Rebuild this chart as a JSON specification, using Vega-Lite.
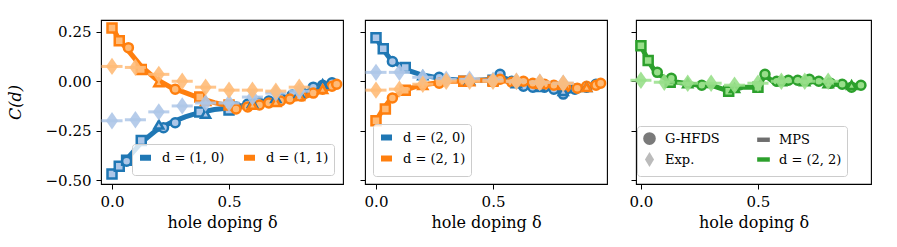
{
"$schema": "https://vega.github.io/schema/vega-lite/v6.json",
"autosize": {"type": "pad"},
"padding": {"left": 6, "top": 16, "right": 5, "bottom": 5},
"background": "white",
"datasets": {
"p1": [
{"d":"d = (1, 0)","k":"m","x":0,"y":-0.47},{"d":"d = (1, 0)","k":"m","x":0.031,"y":-0.43},{"d":"d = (1, 0)","k":"m","x":0.0625,"y":-0.395},{"d":"d = (1, 0)","k":"m","x":0.125,"y":-0.31},{"d":"d = (1, 0)","k":"m","x":0.1875,"y":-0.25},{"d":"d = (1, 0)","k":"m","x":0.25,"y":-0.21},{"d":"d = (1, 0)","k":"m","x":0.3125,"y":-0.18},{"d":"d = (1, 0)","k":"m","x":0.375,"y":-0.158},{"d":"d = (1, 0)","k":"m","x":0.4375,"y":-0.143},{"d":"d = (1, 0)","k":"m","x":0.5,"y":-0.135},{"d":"d = (1, 0)","k":"m","x":0.5625,"y":-0.122},{"d":"d = (1, 0)","k":"m","x":0.625,"y":-0.108},{"d":"d = (1, 0)","k":"m","x":0.6875,"y":-0.093},{"d":"d = (1, 0)","k":"m","x":0.75,"y":-0.078},{"d":"d = (1, 0)","k":"m","x":0.8125,"y":-0.06},{"d":"d = (1, 0)","k":"m","x":0.875,"y":-0.035},{"d":"d = (1, 0)","k":"m","x":0.9375,"y":-0.012},{"d":"d = (1, 0)","k":"m","x":0.96,"y":-0.002},
{"d":"d = (1, 1)","k":"m","x":0,"y":0.275},{"d":"d = (1, 1)","k":"m","x":0.031,"y":0.21},{"d":"d = (1, 1)","k":"m","x":0.0625,"y":0.165},{"d":"d = (1, 1)","k":"m","x":0.125,"y":0.075},{"d":"d = (1, 1)","k":"m","x":0.1875,"y":0.012},{"d":"d = (1, 1)","k":"m","x":0.25,"y":-0.03},{"d":"d = (1, 1)","k":"m","x":0.3125,"y":-0.058},{"d":"d = (1, 1)","k":"m","x":0.375,"y":-0.085},{"d":"d = (1, 1)","k":"m","x":0.4375,"y":-0.108},{"d":"d = (1, 1)","k":"m","x":0.5,"y":-0.125},{"d":"d = (1, 1)","k":"m","x":0.5625,"y":-0.13},{"d":"d = (1, 1)","k":"m","x":0.625,"y":-0.118},{"d":"d = (1, 1)","k":"m","x":0.6875,"y":-0.107},{"d":"d = (1, 1)","k":"m","x":0.75,"y":-0.097},{"d":"d = (1, 1)","k":"m","x":0.8125,"y":-0.082},{"d":"d = (1, 1)","k":"m","x":0.875,"y":-0.058},{"d":"d = (1, 1)","k":"m","x":0.9375,"y":-0.032},{"d":"d = (1, 1)","k":"m","x":0.96,"y":-0.018},
{"d":"d = (1, 0)","k":"s","x":0,"y":-0.47},{"d":"d = (1, 0)","k":"s","x":0.031,"y":-0.43},{"d":"d = (1, 0)","k":"s","x":0.0625,"y":-0.4},{"d":"d = (1, 0)","k":"s","x":0.125,"y":-0.3},{"d":"d = (1, 0)","k":"s","x":0.375,"y":-0.155},{"d":"d = (1, 0)","k":"s","x":0.5,"y":-0.145},
{"d":"d = (1, 1)","k":"s","x":0,"y":0.27},{"d":"d = (1, 1)","k":"s","x":0.031,"y":0.205},{"d":"d = (1, 1)","k":"s","x":0.125,"y":0.06},{"d":"d = (1, 1)","k":"s","x":0.375,"y":-0.08},{"d":"d = (1, 1)","k":"s","x":0.5,"y":-0.12},
{"d":"d = (1, 0)","k":"c","x":0.0625,"y":-0.405},{"d":"d = (1, 0)","k":"c","x":0.22,"y":-0.235},{"d":"d = (1, 0)","k":"c","x":0.27,"y":-0.21},{"d":"d = (1, 0)","k":"c","x":0.53,"y":-0.13},{"d":"d = (1, 0)","k":"c","x":0.58,"y":-0.115},{"d":"d = (1, 0)","k":"c","x":0.625,"y":-0.105},{"d":"d = (1, 0)","k":"c","x":0.67,"y":-0.1},{"d":"d = (1, 0)","k":"c","x":0.72,"y":-0.085},{"d":"d = (1, 0)","k":"c","x":0.77,"y":-0.07},{"d":"d = (1, 0)","k":"c","x":0.81,"y":-0.055},{"d":"d = (1, 0)","k":"c","x":0.86,"y":-0.03},{"d":"d = (1, 0)","k":"c","x":0.9,"y":-0.02},{"d":"d = (1, 0)","k":"c","x":0.94,"y":-0.008},
{"d":"d = (1, 1)","k":"c","x":0.07,"y":0.17},{"d":"d = (1, 1)","k":"c","x":0.27,"y":-0.04},{"d":"d = (1, 1)","k":"c","x":0.53,"y":-0.14},{"d":"d = (1, 1)","k":"c","x":0.58,"y":-0.13},{"d":"d = (1, 1)","k":"c","x":0.63,"y":-0.12},{"d":"d = (1, 1)","k":"c","x":0.67,"y":-0.11},{"d":"d = (1, 1)","k":"c","x":0.72,"y":-0.1},{"d":"d = (1, 1)","k":"c","x":0.76,"y":-0.09},{"d":"d = (1, 1)","k":"c","x":0.81,"y":-0.075},{"d":"d = (1, 1)","k":"c","x":0.86,"y":-0.06},{"d":"d = (1, 1)","k":"c","x":0.9,"y":-0.04},{"d":"d = (1, 1)","k":"c","x":0.94,"y":-0.025},{"d":"d = (1, 1)","k":"c","x":0.96,"y":-0.015},
{"d":"d = (1, 0)","k":"t","x":0.2,"y":-0.22},{"d":"d = (1, 0)","k":"t","x":0.4,"y":-0.165},{"d":"d = (1, 0)","k":"t","x":0.6,"y":-0.11},{"d":"d = (1, 0)","k":"t","x":0.7,"y":-0.085},{"d":"d = (1, 0)","k":"t","x":0.8,"y":-0.06},{"d":"d = (1, 0)","k":"t","x":0.9,"y":-0.015},
{"d":"d = (1, 1)","k":"t","x":0.2,"y":-0.005},{"d":"d = (1, 1)","k":"t","x":0.4,"y":-0.1},{"d":"d = (1, 1)","k":"t","x":0.6,"y":-0.12},{"d":"d = (1, 1)","k":"t","x":0.7,"y":-0.105},{"d":"d = (1, 1)","k":"t","x":0.8,"y":-0.075},{"d":"d = (1, 1)","k":"t","x":0.9,"y":-0.04},
{"d":"d = (1, 0)","k":"e","x":0,"y":-0.2,"lo":-0.045,"hi":0.045},{"d":"d = (1, 0)","k":"e","x":0.1,"y":-0.195,"lo":0.055,"hi":0.145},{"d":"d = (1, 0)","k":"e","x":0.2,"y":-0.155,"lo":0.155,"hi":0.245},{"d":"d = (1, 0)","k":"e","x":0.3,"y":-0.125,"lo":0.255,"hi":0.345},{"d":"d = (1, 0)","k":"e","x":0.4,"y":-0.11,"lo":0.355,"hi":0.445},{"d":"d = (1, 0)","k":"e","x":0.5,"y":-0.11,"lo":0.455,"hi":0.545},{"d":"d = (1, 0)","k":"e","x":0.6,"y":-0.08,"lo":0.555,"hi":0.645},{"d":"d = (1, 0)","k":"e","x":0.7,"y":-0.06,"lo":0.655,"hi":0.745},{"d":"d = (1, 0)","k":"e","x":0.8,"y":-0.05,"lo":0.755,"hi":0.845},
{"d":"d = (1, 1)","k":"e","x":0,"y":0.075,"lo":-0.045,"hi":0.045},{"d":"d = (1, 1)","k":"e","x":0.1,"y":0.07,"lo":0.055,"hi":0.145},{"d":"d = (1, 1)","k":"e","x":0.2,"y":0.035,"lo":0.155,"hi":0.245},{"d":"d = (1, 1)","k":"e","x":0.3,"y":0.0,"lo":0.255,"hi":0.345},{"d":"d = (1, 1)","k":"e","x":0.4,"y":-0.03,"lo":0.355,"hi":0.445},{"d":"d = (1, 1)","k":"e","x":0.5,"y":-0.045,"lo":0.455,"hi":0.545},{"d":"d = (1, 1)","k":"e","x":0.6,"y":-0.045,"lo":0.555,"hi":0.645},{"d":"d = (1, 1)","k":"e","x":0.7,"y":-0.05,"lo":0.655,"hi":0.745},{"d":"d = (1, 1)","k":"e","x":0.8,"y":-0.03,"lo":0.755,"hi":0.845}
],
"p2": [
{"d":"d = (2, 0)","k":"m","x":0,"y":0.22},{"d":"d = (2, 0)","k":"m","x":0.031,"y":0.16},{"d":"d = (2, 0)","k":"m","x":0.0625,"y":0.11},{"d":"d = (2, 0)","k":"m","x":0.125,"y":0.06},{"d":"d = (2, 0)","k":"m","x":0.1875,"y":0.035},{"d":"d = (2, 0)","k":"m","x":0.25,"y":0.02},{"d":"d = (2, 0)","k":"m","x":0.3125,"y":0.01},{"d":"d = (2, 0)","k":"m","x":0.375,"y":0.005},{"d":"d = (2, 0)","k":"m","x":0.4375,"y":0.005},{"d":"d = (2, 0)","k":"m","x":0.5,"y":0.01},{"d":"d = (2, 0)","k":"m","x":0.53,"y":0.025},{"d":"d = (2, 0)","k":"m","x":0.5625,"y":0.01},{"d":"d = (2, 0)","k":"m","x":0.625,"y":-0.015},{"d":"d = (2, 0)","k":"m","x":0.6875,"y":-0.025},{"d":"d = (2, 0)","k":"m","x":0.75,"y":-0.035},{"d":"d = (2, 0)","k":"m","x":0.8,"y":-0.06},{"d":"d = (2, 0)","k":"m","x":0.8125,"y":-0.055},{"d":"d = (2, 0)","k":"m","x":0.875,"y":-0.035},{"d":"d = (2, 0)","k":"m","x":0.9375,"y":-0.02},{"d":"d = (2, 0)","k":"m","x":0.96,"y":-0.01},
{"d":"d = (2, 1)","k":"m","x":0,"y":-0.2},{"d":"d = (2, 1)","k":"m","x":0.031,"y":-0.14},{"d":"d = (2, 1)","k":"m","x":0.0625,"y":-0.09},{"d":"d = (2, 1)","k":"m","x":0.125,"y":-0.045},{"d":"d = (2, 1)","k":"m","x":0.1875,"y":-0.02},{"d":"d = (2, 1)","k":"m","x":0.25,"y":-0.01},{"d":"d = (2, 1)","k":"m","x":0.3125,"y":0.0},{"d":"d = (2, 1)","k":"m","x":0.375,"y":0.0},{"d":"d = (2, 1)","k":"m","x":0.4375,"y":0.005},{"d":"d = (2, 1)","k":"m","x":0.5,"y":0.005},{"d":"d = (2, 1)","k":"m","x":0.5625,"y":0.0},{"d":"d = (2, 1)","k":"m","x":0.625,"y":-0.01},{"d":"d = (2, 1)","k":"m","x":0.6875,"y":-0.015},{"d":"d = (2, 1)","k":"m","x":0.75,"y":-0.02},{"d":"d = (2, 1)","k":"m","x":0.8125,"y":-0.03},{"d":"d = (2, 1)","k":"m","x":0.875,"y":-0.04},{"d":"d = (2, 1)","k":"m","x":0.9375,"y":-0.025},{"d":"d = (2, 1)","k":"m","x":0.96,"y":-0.012},
{"d":"d = (2, 0)","k":"s","x":0,"y":0.22},{"d":"d = (2, 0)","k":"s","x":0.031,"y":0.165},{"d":"d = (2, 0)","k":"s","x":0.125,"y":0.07},{"d":"d = (2, 0)","k":"s","x":0.375,"y":0.0},{"d":"d = (2, 0)","k":"s","x":0.5,"y":0.005},
{"d":"d = (2, 1)","k":"s","x":0,"y":-0.2},{"d":"d = (2, 1)","k":"s","x":0.04,"y":-0.14},{"d":"d = (2, 1)","k":"s","x":0.125,"y":-0.045},{"d":"d = (2, 1)","k":"s","x":0.375,"y":0.0},{"d":"d = (2, 1)","k":"s","x":0.5,"y":0.0},
{"d":"d = (2, 0)","k":"c","x":0.07,"y":0.1},{"d":"d = (2, 0)","k":"c","x":0.27,"y":0.02},{"d":"d = (2, 0)","k":"c","x":0.53,"y":0.035},{"d":"d = (2, 0)","k":"c","x":0.58,"y":0.0},{"d":"d = (2, 0)","k":"c","x":0.63,"y":-0.025},{"d":"d = (2, 0)","k":"c","x":0.67,"y":-0.03},{"d":"d = (2, 0)","k":"c","x":0.72,"y":-0.03},{"d":"d = (2, 0)","k":"c","x":0.76,"y":-0.04},{"d":"d = (2, 0)","k":"c","x":0.8,"y":-0.065},{"d":"d = (2, 0)","k":"c","x":0.85,"y":-0.04},{"d":"d = (2, 0)","k":"c","x":0.9,"y":-0.03},{"d":"d = (2, 0)","k":"c","x":0.94,"y":-0.015},
{"d":"d = (2, 1)","k":"c","x":0.07,"y":-0.085},{"d":"d = (2, 1)","k":"c","x":0.27,"y":-0.01},{"d":"d = (2, 1)","k":"c","x":0.53,"y":0.01},{"d":"d = (2, 1)","k":"c","x":0.58,"y":-0.005},{"d":"d = (2, 1)","k":"c","x":0.63,"y":0.0},{"d":"d = (2, 1)","k":"c","x":0.67,"y":-0.01},{"d":"d = (2, 1)","k":"c","x":0.72,"y":-0.015},{"d":"d = (2, 1)","k":"c","x":0.76,"y":-0.02},{"d":"d = (2, 1)","k":"c","x":0.81,"y":-0.03},{"d":"d = (2, 1)","k":"c","x":0.86,"y":-0.035},{"d":"d = (2, 1)","k":"c","x":0.9,"y":-0.025},{"d":"d = (2, 1)","k":"c","x":0.94,"y":-0.02},{"d":"d = (2, 1)","k":"c","x":0.96,"y":-0.01},
{"d":"d = (2, 0)","k":"t","x":0.2,"y":0.03},{"d":"d = (2, 0)","k":"t","x":0.4,"y":0.005},{"d":"d = (2, 0)","k":"t","x":0.6,"y":-0.01},{"d":"d = (2, 0)","k":"t","x":0.7,"y":-0.03},{"d":"d = (2, 0)","k":"t","x":0.8,"y":-0.05},{"d":"d = (2, 0)","k":"t","x":0.9,"y":-0.03},
{"d":"d = (2, 1)","k":"t","x":0.2,"y":-0.02},{"d":"d = (2, 1)","k":"t","x":0.4,"y":0.0},{"d":"d = (2, 1)","k":"t","x":0.6,"y":0.0},{"d":"d = (2, 1)","k":"t","x":0.7,"y":-0.015},{"d":"d = (2, 1)","k":"t","x":0.8,"y":-0.02},{"d":"d = (2, 1)","k":"t","x":0.9,"y":-0.03},
{"d":"d = (2, 0)","k":"e","x":0,"y":0.045,"lo":-0.045,"hi":0.045},{"d":"d = (2, 0)","k":"e","x":0.1,"y":0.045,"lo":0.055,"hi":0.145},{"d":"d = (2, 0)","k":"e","x":0.2,"y":0.02,"lo":0.155,"hi":0.245},{"d":"d = (2, 0)","k":"e","x":0.3,"y":0.01,"lo":0.255,"hi":0.345},{"d":"d = (2, 0)","k":"e","x":0.4,"y":0.01,"lo":0.355,"hi":0.445},{"d":"d = (2, 0)","k":"e","x":0.5,"y":0.005,"lo":0.455,"hi":0.545},{"d":"d = (2, 0)","k":"e","x":0.6,"y":0.0,"lo":0.555,"hi":0.645},{"d":"d = (2, 0)","k":"e","x":0.7,"y":-0.005,"lo":0.655,"hi":0.745},{"d":"d = (2, 0)","k":"e","x":0.8,"y":-0.01,"lo":0.755,"hi":0.845},
{"d":"d = (2, 1)","k":"e","x":0,"y":-0.045,"lo":-0.045,"hi":0.045},{"d":"d = (2, 1)","k":"e","x":0.1,"y":-0.04,"lo":0.055,"hi":0.145},{"d":"d = (2, 1)","k":"e","x":0.2,"y":-0.015,"lo":0.155,"hi":0.245},{"d":"d = (2, 1)","k":"e","x":0.3,"y":0.0,"lo":0.255,"hi":0.345},{"d":"d = (2, 1)","k":"e","x":0.4,"y":0.0,"lo":0.355,"hi":0.445},{"d":"d = (2, 1)","k":"e","x":0.5,"y":0.0,"lo":0.455,"hi":0.545},{"d":"d = (2, 1)","k":"e","x":0.6,"y":0.0,"lo":0.555,"hi":0.645},{"d":"d = (2, 1)","k":"e","x":0.7,"y":-0.005,"lo":0.655,"hi":0.745},{"d":"d = (2, 1)","k":"e","x":0.8,"y":-0.01,"lo":0.755,"hi":0.845}
],
"p3": [
{"k":"m","x":0,"y":0.18},{"k":"m","x":0.031,"y":0.105},{"k":"m","x":0.0625,"y":0.045},{"k":"m","x":0.125,"y":0.0},{"k":"m","x":0.1875,"y":-0.01},{"k":"m","x":0.25,"y":-0.02},{"k":"m","x":0.3125,"y":-0.025},{"k":"m","x":0.375,"y":-0.05},{"k":"m","x":0.4375,"y":-0.03},{"k":"m","x":0.5,"y":-0.03},{"k":"m","x":0.53,"y":0.03},{"k":"m","x":0.5625,"y":0.0},{"k":"m","x":0.625,"y":0.0},{"k":"m","x":0.6875,"y":0.005},{"k":"m","x":0.75,"y":-0.005},{"k":"m","x":0.8125,"y":-0.01},{"k":"m","x":0.875,"y":-0.025},{"k":"m","x":0.9375,"y":-0.02},{"k":"m","x":0.96,"y":-0.02},
{"k":"s","x":0,"y":0.18},{"k":"s","x":0.031,"y":0.105},{"k":"s","x":0.125,"y":-0.005},{"k":"s","x":0.375,"y":-0.05},{"k":"s","x":0.5,"y":-0.03},
{"k":"c","x":0.07,"y":0.045},{"k":"c","x":0.13,"y":0.015},{"k":"c","x":0.26,"y":-0.02},{"k":"c","x":0.53,"y":0.035},{"k":"c","x":0.58,"y":0.0},{"k":"c","x":0.63,"y":0.005},{"k":"c","x":0.67,"y":0.005},{"k":"c","x":0.72,"y":0.01},{"k":"c","x":0.76,"y":0.0},{"k":"c","x":0.81,"y":-0.01},{"k":"c","x":0.86,"y":-0.015},{"k":"c","x":0.9,"y":-0.03},{"k":"c","x":0.94,"y":-0.02},
{"k":"t","x":0.2,"y":-0.01},{"k":"t","x":0.4,"y":-0.035},{"k":"t","x":0.6,"y":0.0},{"k":"t","x":0.7,"y":0.0},{"k":"t","x":0.8,"y":-0.01},{"k":"t","x":0.9,"y":-0.02},
{"k":"e","x":0,"y":0.005,"lo":-0.045,"hi":0.045},{"k":"e","x":0.1,"y":-0.005,"lo":0.055,"hi":0.145},{"k":"e","x":0.2,"y":-0.01,"lo":0.155,"hi":0.245},{"k":"e","x":0.3,"y":-0.01,"lo":0.255,"hi":0.345},{"k":"e","x":0.4,"y":-0.02,"lo":0.355,"hi":0.445},{"k":"e","x":0.5,"y":-0.01,"lo":0.455,"hi":0.545},{"k":"e","x":0.6,"y":0.0,"lo":0.555,"hi":0.645},{"k":"e","x":0.7,"y":0.0,"lo":0.655,"hi":0.745},{"k":"e","x":0.8,"y":0.0,"lo":0.755,"hi":0.845}
]
},
"spacing": 22,
"bounds": "flush",
"resolve": {"scale": {"stroke": "independent", "fill": "independent", "color": "independent", "shape": "independent"}, "legend": {"stroke": "independent", "fill": "independent", "color": "independent", "shape": "independent"}},
"hconcat": [
{
"width": 242, "height": 164,
"data": {"name": "p1"},
"encoding": {
 "x": {"field": "x", "type": "quantitative", "scale": {"domain": [-0.047, 0.987], "nice": false, "zero": false}, "axis": {"values": [0, 0.5], "format": ".1f"}, "title": "hole doping δ"},
 "y": {"field": "y", "type": "quantitative", "scale": {"domain": [-0.52, 0.31], "nice": false, "zero": false}, "axis": {"values": [-0.5, -0.25, 0, 0.25], "format": ".2f"}, "title": "C(d)"}
},
"layer": [
 {"data": {"values": [{}]}, "mark": {"type": "rule", "color": "black", "strokeWidth": 1.2}, "encoding": {"x": {"datum": -0.047}, "x2": {"datum": 0.987}, "y": {"datum": 0}}},
 {"transform": [{"filter": "datum.k == 'm'"}], "mark": {"type": "line", "strokeWidth": 5}, "encoding": {"stroke": {"field": "d", "type": "nominal", "scale": {"domain": ["d = (1, 0)", "d = (1, 1)"], "range": ["#1f77b4", "#ff7f0e"]}, "legend": {"orient": "none", "legendX": 31, "legendY": 124, "columns": 2, "title": null, "symbolType": "stroke", "symbolStrokeWidth": 6, "symbolSize": 121, "columnPadding": 7, "padding": 5, "labelFontSize": 13}}}},
 {"transform": [{"filter": "datum.k == 's'"}], "mark": {"type": "point", "shape": "square", "filled": true, "size": 81, "strokeWidth": 2.5, "opacity": 1}, "encoding": {"stroke": {"field": "d", "type": "nominal"}, "fill": {"field": "d", "type": "nominal", "scale": {"domain": ["d = (1, 0)", "d = (1, 1)"], "range": ["#aec7e8", "#ffbb78"]}, "legend": null}}},
 {"transform": [{"filter": "datum.k == 'c'"}], "mark": {"type": "point", "shape": "circle", "filled": true, "size": 81, "strokeWidth": 2.5, "opacity": 1}, "encoding": {"stroke": {"field": "d", "type": "nominal"}, "fill": {"field": "d", "type": "nominal", "legend": null}}},
 {"transform": [{"filter": "datum.k == 't'"}], "mark": {"type": "point", "shape": "triangle-up", "filled": true, "size": 81, "strokeWidth": 2.5, "opacity": 1}, "encoding": {"stroke": {"field": "d", "type": "nominal"}, "fill": {"field": "d", "type": "nominal", "legend": null}}},
 {"transform": [{"filter": "datum.k == 'e'"}], "mark": {"type": "rule", "strokeWidth": 3, "opacity": 0.85}, "encoding": {"x": {"field": "lo", "type": "quantitative"}, "x2": {"field": "hi"}, "color": {"field": "d", "type": "nominal", "scale": {"domain": ["d = (1, 0)", "d = (1, 1)"], "range": ["#aec7e8", "#ffbb78"]}, "legend": null}}},
 {"transform": [{"filter": "datum.k == 'e'"}], "mark": {"type": "point", "shape": "M0,-1L0.7,0L0,1L-0.7,0Z", "filled": true, "size": 300, "opacity": 0.9}, "encoding": {"fill": {"field": "d", "type": "nominal", "legend": null}}}
]
},
{
"spacing": 29,
"bounds": "flush",
"resolve": {"scale": {"stroke": "independent", "fill": "independent", "color": "independent", "shape": "independent"}, "legend": {"stroke": "independent", "fill": "independent", "color": "independent", "shape": "independent"}},
"hconcat": [
{
"width": 242, "height": 164,
"data": {"name": "p2"},
"encoding": {
 "x": {"field": "x", "type": "quantitative", "scale": {"domain": [-0.047, 0.987], "nice": false, "zero": false}, "axis": {"values": [0, 0.5], "format": ".1f"}, "title": "hole doping δ"},
 "y": {"field": "y", "type": "quantitative", "scale": {"domain": [-0.52, 0.31], "nice": false, "zero": false}, "axis": {"values": [-0.5, -0.25, 0, 0.25], "labels": false}, "title": null}
},
"layer": [
 {"data": {"values": [{}]}, "mark": {"type": "rule", "color": "black", "strokeWidth": 1.2}, "encoding": {"x": {"datum": -0.047}, "x2": {"datum": 0.987}, "y": {"datum": 0}}},
 {"transform": [{"filter": "datum.k == 'm'"}], "mark": {"type": "line", "strokeWidth": 5}, "encoding": {"stroke": {"field": "d", "type": "nominal", "scale": {"domain": ["d = (2, 0)", "d = (2, 1)"], "range": ["#1f77b4", "#ff7f0e"]}, "legend": {"orient": "none", "legendX": 8, "legendY": 104, "columns": 1, "title": null, "symbolType": "stroke", "symbolStrokeWidth": 6, "symbolSize": 121, "rowPadding": -4, "padding": 5, "labelFontSize": 13}}}},
 {"transform": [{"filter": "datum.k == 's'"}], "mark": {"type": "point", "shape": "square", "filled": true, "size": 81, "strokeWidth": 2.5, "opacity": 1}, "encoding": {"stroke": {"field": "d", "type": "nominal"}, "fill": {"field": "d", "type": "nominal", "scale": {"domain": ["d = (2, 0)", "d = (2, 1)"], "range": ["#aec7e8", "#ffbb78"]}, "legend": null}}},
 {"transform": [{"filter": "datum.k == 'c'"}], "mark": {"type": "point", "shape": "circle", "filled": true, "size": 81, "strokeWidth": 2.5, "opacity": 1}, "encoding": {"stroke": {"field": "d", "type": "nominal"}, "fill": {"field": "d", "type": "nominal", "legend": null}}},
 {"transform": [{"filter": "datum.k == 't'"}], "mark": {"type": "point", "shape": "triangle-up", "filled": true, "size": 81, "strokeWidth": 2.5, "opacity": 1}, "encoding": {"stroke": {"field": "d", "type": "nominal"}, "fill": {"field": "d", "type": "nominal", "legend": null}}},
 {"transform": [{"filter": "datum.k == 'e'"}], "mark": {"type": "rule", "strokeWidth": 3, "opacity": 0.85}, "encoding": {"x": {"field": "lo", "type": "quantitative"}, "x2": {"field": "hi"}, "color": {"field": "d", "type": "nominal", "scale": {"domain": ["d = (2, 0)", "d = (2, 1)"], "range": ["#aec7e8", "#ffbb78"]}, "legend": null}}},
 {"transform": [{"filter": "datum.k == 'e'"}], "mark": {"type": "point", "shape": "M0,-1L0.7,0L0,1L-0.7,0Z", "filled": true, "size": 300, "opacity": 0.9}, "encoding": {"fill": {"field": "d", "type": "nominal", "legend": null}}}
]
},
{
"width": 235, "height": 164,
"data": {"name": "p3"},
"encoding": {
 "x": {"field": "x", "type": "quantitative", "scale": {"domain": [-0.021, 0.983], "nice": false, "zero": false}, "axis": {"values": [0, 0.5], "format": ".1f"}, "title": "hole doping δ"},
 "y": {"field": "y", "type": "quantitative", "scale": {"domain": [-0.52, 0.31], "nice": false, "zero": false}, "axis": {"values": [-0.5, -0.25, 0, 0.25], "labels": false}, "title": null}
},
"layer": [
 {"data": {"values": [{}]}, "mark": {"type": "rule", "color": "black", "strokeWidth": 1.2}, "encoding": {"x": {"datum": -0.021}, "x2": {"datum": 0.983}, "y": {"datum": 0}}},
 {"transform": [{"filter": "datum.k == 'm'"}], "mark": {"type": "line", "strokeWidth": 5, "color": "#2ca02c"}, "encoding": {}},
 {"transform": [{"filter": "datum.k == 's'"}], "mark": {"type": "point", "shape": "square", "filled": true, "size": 81, "strokeWidth": 2.5, "opacity": 1, "fill": "#98df8a", "stroke": "#2ca02c"}, "encoding": {}},
 {"transform": [{"filter": "datum.k == 'c'"}], "mark": {"type": "point", "shape": "circle", "filled": true, "size": 81, "strokeWidth": 2.5, "opacity": 1, "fill": "#98df8a", "stroke": "#2ca02c"}, "encoding": {}},
 {"transform": [{"filter": "datum.k == 't'"}], "mark": {"type": "point", "shape": "triangle-up", "filled": true, "size": 81, "strokeWidth": 2.5, "opacity": 1, "fill": "#98df8a", "stroke": "#2ca02c"}, "encoding": {}},
 {"transform": [{"filter": "datum.k == 'e'"}], "mark": {"type": "rule", "strokeWidth": 3, "opacity": 0.85, "color": "#98df8a"}, "encoding": {"x": {"field": "lo", "type": "quantitative"}, "x2": {"field": "hi"}}},
 {"transform": [{"filter": "datum.k == 'e'"}], "mark": {"type": "point", "shape": "M0,-1L0.7,0L0,1L-0.7,0Z", "filled": true, "size": 300, "opacity": 0.9, "color": "#98df8a"}, "encoding": {}},
 {"data": {"values": [{"leg": "G-HFDS"}, {"leg": "Exp."}, {"leg": "MPS"}, {"leg": "d = (2, 2)"}]}, "mark": {"type": "point", "filled": true, "opacity": 0}, "encoding": {"x": {"datum": 0.5}, "y": {"datum": 0}, "color": {"field": "leg", "type": "nominal", "scale": {"domain": ["G-HFDS", "Exp.", "MPS", "d = (2, 2)"], "range": ["#7a7a7a", "#bbbbbb", "#6e6e6e", "#2ca02c"]}, "legend": {"orient": "none", "legendX": 1, "legendY": 106, "columns": 2, "title": null, "symbolSize": 160, "columnPadding": 34, "symbolOpacity": 1, "padding": 5, "labelFontSize": 13, "rowPadding": 0}}, "shape": {"field": "leg", "type": "nominal", "scale": {"domain": ["G-HFDS", "Exp.", "MPS", "d = (2, 2)"], "range": ["circle", "M0,-1.2L0.72,0L0,1.2L-0.72,0Z", "M-1,-0.35H1V0.35H-1Z", "M-1,-0.35H1V0.35H-1Z"]}, "legend": {"orient": "none", "legendX": 1, "legendY": 106, "columns": 2, "title": null, "symbolSize": 160, "columnPadding": 34, "symbolOpacity": 1, "padding": 5, "labelFontSize": 13, "rowPadding": 0}}}}
]
}
]
}
],
"config": {
 "font": "DejaVu Serif",
 "view": {"stroke": "black", "strokeWidth": 1.1},
 "axis": {"grid": false, "domain": false, "tickColor": "black", "tickSize": 5, "tickWidth": 1, "labelFont": "DejaVu Serif", "labelFontSize": 15, "labelColor": "black", "labelPadding": 5, "labelFlush": false, "titleFont": "DejaVu Serif", "titleFontSize": 16, "titleFontWeight": "normal", "titleColor": "black"},
 "axisX": {"titlePadding": 5},
 "axisY": {"titlePadding": 22, "titleFontStyle": "italic"},
 "legend": {"labelFont": "DejaVu Serif", "labelFontSize": 13, "labelColor": "black", "fillColor": "rgba(255,255,255,0.8)", "strokeColor": "#cccccc", "cornerRadius": 3, "padding": 5, "labelOffset": 8, "rowPadding": 3}
}
}
